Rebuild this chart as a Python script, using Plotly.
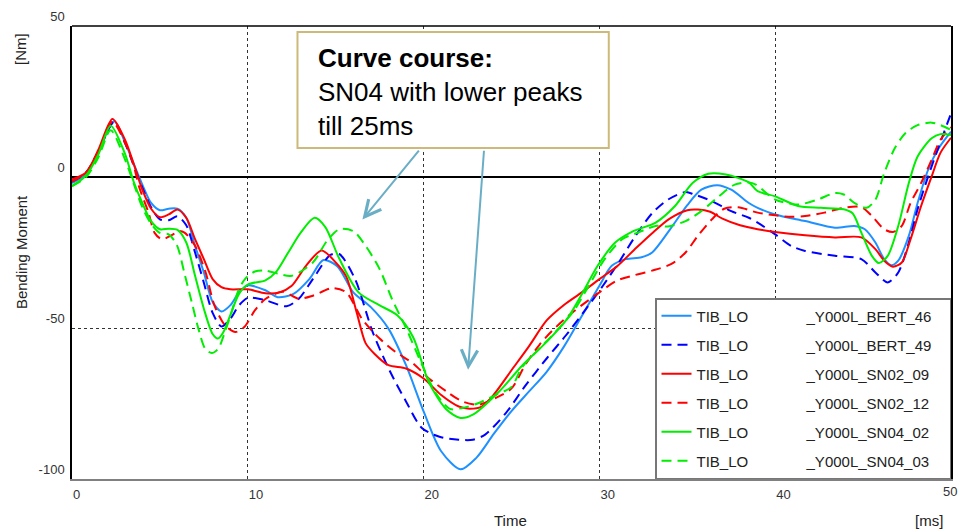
import plotly.graph_objects as go

# ---------------- data ----------------
t_bert46 = [0, 0.8, 1.5, 2.4, 3.0, 3.5, 4.0, 4.5, 5.0, 5.5, 6.0, 6.5, 7.0, 7.5, 8.0, 8.5, 9.0, 9.5, 10.0,
            11.0, 11.7, 12.6, 13.5, 14.3, 15.1, 16.0, 17.0, 18.0, 19.0, 20.0, 21.0, 22.1, 23.0, 24.0, 25.0,
            26.0, 27.0, 28.0, 29.0, 30.0, 30.7, 31.5, 32.4, 33.0, 34.0, 35.0, 35.8, 36.7, 37.5, 38.5, 39.0,
            40.0, 41.7, 43.4, 44.5, 45.1, 45.7, 46.2, 46.6, 47.0, 47.6, 48.1, 48.7, 49.3, 50.0]
y_bert46 = [-2, 1, 8.5, 18.5, 11.7, 4.5, -2.5, -8.6, -11, -10.5, -10.5, -13.5, -22.8, -31.6, -41.4, -44.5, -42.5, -38.2, -35.9,
            -37.5, -39.8, -38.7, -33.8, -27.5, -29.6, -38.2, -43.1, -50.2, -62.3, -77.6, -90.8, -96.8, -93, -85, -77.5,
            -71, -64.5, -56, -46, -36, -29.4, -27.2, -26.6, -25, -17.5, -9.3, -4.2, -2.7, -4.2, -8.6, -10.2,
            -12.4, -14.6, -16.8, -16.2, -17.3, -21.7, -27.2, -29.2, -27.7, -19.5, -8.6, 2.4, 9.5, 15]

t_bert49 = [0, 0.8, 1.5, 2.4, 3.0, 3.5, 4.0, 4.5, 5.0, 5.5, 6.0, 6.5, 7.0, 7.5, 8.0, 8.5, 9.0, 9.5, 10.0,
            11.0, 12.2, 12.9, 13.7, 14.7, 15.2, 16.1, 17.1, 18.1, 19.0, 19.9, 20.9, 22.0, 22.8, 23.5, 24.7,
            25.8, 27.0, 28.1, 29.2, 30.2, 31.1, 32.0, 33.0, 33.9, 34.9, 35.4, 36.4, 37.5, 38.5, 39.0, 40.0,
            40.9, 41.7, 43.4, 44.9, 45.7, 46.4, 47.0, 47.6, 48.1, 48.7, 49.3, 50.0]
y_bert49 = [-1.5, 1.5, 8.5, 18.3, 11.5, 4, -3.5, -10, -14, -14.3, -13, -16, -25, -35, -45, -49.5, -47, -42.5, -40,
            -40.8, -42.8, -40.3, -33.8, -25.8, -25.5, -33.8, -51.3, -64.5, -74.3, -83.1, -86, -87, -87, -85.3, -78,
            -69, -60.1, -52.4, -44, -36, -28.3, -20, -12, -7.5, -5, -5.8, -8, -11.3, -13.5, -15.1, -19,
            -22.8, -24.5, -26.1, -27.2, -31.6, -34.9, -31.6, -21.7, -10.7, 0.2, 10, 21]

t_sn02_09 = [0, 0.8, 1.5, 2.3, 3.0, 3.5, 4.0, 4.5, 5.0, 5.5, 6.0, 6.5, 7.0, 7.5, 8.0, 8.5, 9.0, 10.0, 11.0,
             11.8, 12.5, 13.3, 14.2, 15.0, 15.6, 16.2, 16.7, 17.2, 18.0, 19.0, 20.0, 21.0, 22.0, 22.6, 23.3,
             24.0, 25.0, 26.0, 27.0, 28.0, 29.0, 30.0, 31.0, 32.0, 33.0, 34.0, 35.0, 35.6, 36.3, 37.0, 38.0,
             39.0, 40.0, 41.7, 43.4, 44.9, 45.7, 46.2, 46.7, 47.2, 47.7, 48.3, 48.9, 49.4, 50.0]
y_sn02_09 = [-0.8, 1.5, 9, 19.2, 12.5, 4.5, -4.2, -10.5, -13.3, -12.4, -10.8, -13.5, -20.6, -27.2, -33.8, -36.5, -37.2, -37.2, -38.5,
             -38.2, -36, -29.5, -24.3, -28.3, -33, -45, -55, -58.5, -62.3, -63.4, -66.7, -72.2, -76, -76.7, -76,
             -72, -64, -56, -47.5, -42.3, -38.2, -33.8, -29.6, -24, -18.6, -13.8, -11, -10.8, -11.5, -13.8, -16,
             -17.3, -18.2, -19.3, -20, -20, -23.9, -27.7, -29.7, -28.3, -20.6, -9.6, 0.2, 8, 13]

t_sn02_12 = [0, 0.8, 1.5, 2.3, 3.0, 3.5, 3.8, 4.35, 4.7, 5.1, 5.7, 6.05, 6.4, 7.0, 7.6, 8.1, 8.7, 9.3, 9.8,
             10.4, 11.0, 12.0, 12.9, 13.7, 14.8, 15.6, 16.5, 17.5, 18.4, 19.4, 20.3, 21.3, 22.2, 23.1, 24.1,
             25.0, 25.8, 26.6, 27.3, 28.5, 30.0, 31.0, 32.0, 33.0, 34.1, 34.9, 35.6, 36.4, 37.1, 37.9, 39.0,
             40.0, 40.9, 41.7, 42.8, 43.9, 44.9, 45.5, 46.2, 46.7, 47.2, 47.7, 48.3, 48.9, 49.4, 50.0]
y_sn02_12 = [-1.5, 1.5, 8.5, 18.3, 11.5, 4, -3, -11.8, -18.5, -20.6, -19.2, -17.9, -18.4, -22.8, -31.6, -42.5, -49.1, -51.3, -49.7,
             -44.2, -40.4, -38, -40.3, -39.3, -36.8, -38.2, -47, -53.5, -57.9, -61.7, -66.7, -71, -74.3, -75.4, -73.2,
             -70, -62, -55.5, -51, -44.7, -38.2, -34.3, -32.5, -31, -28.8, -25, -19.5, -14, -10.5, -10, -11.8,
             -12.7, -13.2, -12.9, -11.8, -10.2, -10, -12.9, -17.3, -18.2, -16.2, -8.6, -2, 5.7, 12.3, 16.5]

t_sn04_02 = [0, 0.8, 1.5, 2.2, 3.0, 3.5, 4.0, 4.5, 5.0, 5.5, 6.0, 6.5, 7.0, 7.5, 8.0, 8.3, 8.6, 9.0, 9.5,
             10.0, 11.0, 11.6, 12.3, 13.0, 13.8, 14.4, 15.2, 16.3, 17.5, 18.5, 19.4, 20.3, 21.3, 22.1, 22.8,
             24.3, 25.6, 27.0, 28.1, 29.0, 29.9, 30.9, 31.9, 33.2, 34.3, 35.3, 36.2, 37.2, 38.5, 39.0, 40.0,
             41.3, 42.6, 43.9, 44.4, 44.9, 45.5, 45.9, 46.4, 47.0, 47.6, 48.1, 48.9, 49.4, 50.0]
y_sn04_02 = [-3, 0.5, 7.5, 17, 7.9, -1.4, -8.6, -14.6, -17.3, -17.1, -17.5, -21.7, -32.7, -43.6, -52, -53.5, -51.5, -45.8, -38.7,
             -35.6, -34.2, -31.5, -25, -18.5, -13.5, -16.5, -27, -38.2, -42.5, -45.8, -53, -68, -77, -79.8, -78.7,
             -71, -62.5, -54.6, -47.5, -38.8, -29.4, -21.7, -18, -15.1, -9.6, -2, 1.1, 0.8, -1.8, -4.7, -6.4,
             -9.6, -10.2, -10.7, -12, -18.4, -26.1, -28.5, -26.1, -16.2, -2, 6.8, 12.8, 14.2, 13.9]

t_sn04_03 = [0, 0.8, 1.5, 2.2, 3.0, 3.5, 4.0, 4.5, 5.0, 5.5, 5.96, 6.43, 6.81, 7.19, 7.57, 7.95, 8.32, 8.7, 9.08,
             9.46, 9.84, 10.4, 11.0, 11.7, 12.5, 13.7, 14.5, 15.2, 16.0, 16.7, 17.5, 18.2, 19.0, 19.9, 20.7,
             21.5, 22.2, 23.1, 24.1, 25.0, 25.6, 26.6, 27.5, 28.5, 29.4, 30.3, 31.3, 32.2, 33.2, 33.9, 34.9,
             35.8, 36.8, 37.7, 38.5, 38.9, 40.0, 41.3, 42.4, 43.4, 43.9, 44.5, 45.2, 45.7, 46.2, 46.8, 47.4,
             48.1, 48.9, 49.4, 50.0]
y_sn04_03 = [-3, 0, 6.5, 15.5, 6, -2, -10, -15.5, -18.5, -19, -22.5, -32.7, -41.4, -50.2, -56.8, -58.3, -56.8, -51.3, -44.7,
             -37.6, -33.8, -31.3, -31, -32, -32.7, -28.3, -21.2, -17.3, -17.9, -22.8, -30.5, -40.4, -50, -62, -71.6,
             -76.8, -76.5, -74.9, -72.2, -69.5, -63, -56.8, -51.3, -44.7, -36, -27.2, -20.6, -18.4, -16.2, -16.4, -14.6,
             -11.3, -6.4, -2.5, -1.8, -2.5, -7.5, -9.1, -7.5, -5.3, -5.8, -8.6, -10.2, -7.5, 1.3, 9.5, 14.5,
             17.2, 18, 17.2, 15.6]

series_names = ["_Y000L_BERT_46", "_Y000L_BERT_49", "_Y000L_SN02_09",
                "_Y000L_SN02_12", "_Y000L_SN04_02", "_Y000L_SN04_03"]
name_prefix = "TIB_LO"
x_ticks = [0, 10, 20, 30, 40, 50]
y_ticks = [-100, -50, 0, 50]

# ---------------- styling ----------------
FONT = "Arial, 'Liberation Sans', sans-serif"
styles = [
    ("#1E90FF", "solid"),
    ("#0000FF", "10px,6px"),
    ("#FF0000", "solid"),
    ("#FF0000", "10px,6px"),
    ("#00EE00", "solid"),
    ("#00EE00", "10px,6px"),
]
data = [(t_bert46, y_bert46), (t_bert49, y_bert49), (t_sn02_09, y_sn02_09),
        (t_sn02_12, y_sn02_12), (t_sn04_02, y_sn04_02), (t_sn04_03, y_sn04_03)]

fig = go.Figure()
gap = "\u00a0" * 14
for (tx, ty), name, (col, dash) in zip(data, series_names, styles):
    fig.add_trace(go.Scatter(
        x=tx, y=ty, mode="lines", name=name_prefix + gap + name + "\u00a0\u00a0\u00a0",
        line=dict(color=col, width=2, dash=dash, shape="spline", smoothing=0.8),
        legendgroup=name,
    ))

fig.update_layout(
    width=962, height=530,
    margin=dict(l=72, r=9, t=22, b=51),
    paper_bgcolor="white", plot_bgcolor="white",
    font=dict(family=FONT, color="#222"),
    showlegend=True,
    legend=dict(
        x=1, y=0, xanchor="right", yanchor="bottom",
        bgcolor="white", bordercolor="#777", borderwidth=1.5,
        font=dict(size=15, family=FONT, color="#222"),
        tracegroupgap=6.5, itemwidth=30,
    ),
    xaxis=dict(
        range=[0, 50], tickvals=x_ticks, ticktext=[str(v) for v in x_ticks],
        showgrid=True, gridcolor="#333", griddash="dot", gridwidth=1,
        showline=True, linecolor="#808080", linewidth=2, mirror=False,
        zeroline=False, ticks="", ticklabelposition="outside right", ticklabelstandoff=2,
        tickfont=dict(size=13, color="#333"),
    ),
    yaxis=dict(
        range=[-100, 50], tickvals=y_ticks, ticktext=[str(v) for v in y_ticks],
        showgrid=True, gridcolor="#333", griddash="dot", gridwidth=1,
        showline=True, linecolor="black", linewidth=1.5, mirror=True,
        zeroline=True, zerolinecolor="black", zerolinewidth=2,
        ticks="", ticklabelposition="outside top", ticklabelstandoff=3,
        tickfont=dict(size=13, color="#333"),
    ),
)

# top frame line and annotation box
fig.add_shape(type="line", xref="paper", yref="paper", x0=0, x1=1, y0=1, y1=1,
              line=dict(color="black", width=1.5), layer="above")
fig.add_shape(type="rect", xref="paper", yref="paper",
              x0=(298 - 72) / 881, x1=(610 - 72) / 881,
              y0=(479 - 145) / 457, y1=(479 - 28) / 457,
              fillcolor="white", line=dict(color="#CDBA7A", width=2), layer="above")

fig.add_annotation(
    xref="paper", yref="paper", x=(317 - 72) / 881, y=(479 - 37) / 457,
    xanchor="left", yanchor="top", align="left", showarrow=False,
    text="<b>Curve course:</b><br>SN04 with lower peaks<br>till 25ms",
    font=dict(size=26, family=FONT, color="black"),
)

# arrows
ARROW = "#6AAEC6"
for tip, tail in [((16.52, -14.1), (19.8, 9.2)), ((22.53, -63.8), (23.44, 9.2))]:
    fig.add_annotation(
        x=tip[0], y=tip[1], ax=tail[0], ay=tail[1], xref="x", yref="y", axref="x", ayref="y",
        text="", showarrow=True, arrowhead=5, arrowsize=1.6, arrowwidth=2, arrowcolor=ARROW, standoff=0,
    )

# last x tick label, kept fully inside the page
fig.add_annotation(xref="paper", yref="paper", x=(961 - 72) / 881, y=(479 - 492) / 457,
                   xanchor="right", yanchor="middle", text=str(x_ticks[-1]), showarrow=False,
                   font=dict(size=13, color="#333"))

# axis titles
def title(text, px, py, angle=0):
    fig.add_annotation(xref="paper", yref="paper", x=(px - 72) / 881, y=(479 - py) / 457,
                       xanchor="center", yanchor="middle", text=text, textangle=angle,
                       showarrow=False, font=dict(size=15, color="#222"))

title("Time", 511, 521)
title("[ms]", 931, 521)
title("Bending Moment", 21, 250, -90)
title("[Nm]", 21, 45, -90)

fig.write_html("out.html", config={"displayModeBar": False},
               post_script="document.body.style.margin='0';")
